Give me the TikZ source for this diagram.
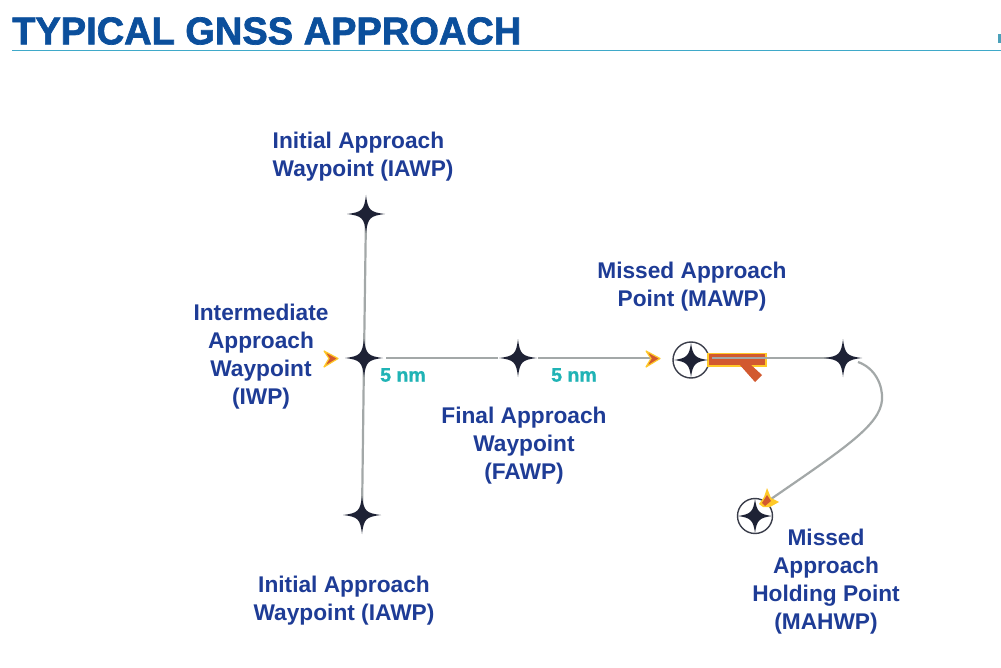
\documentclass[tikz,border=0pt]{standalone}
\usepackage{fontspec}
\setmainfont{Liberation Sans}
\newfontfamily\titlefont[FakeBold=1.8]{Liberation Sans Bold}
\newfontfamily\nmfont[FakeBold=1.2]{Liberation Sans Bold}
\definecolor{titleblue}{HTML}{0B4F9C}
\definecolor{rulecyan}{HTML}{3FA9C9}
\definecolor{labelblue}{HTML}{1E3C96}
\definecolor{linegrey}{HTML}{A3A8A8}
\definecolor{stardark}{HTML}{1E2235}
\definecolor{markorange}{HTML}{D2592F}
\definecolor{markyellow}{HTML}{FFC928}
\definecolor{nmteal}{HTML}{1FB3B5}
\tikzset{
  every picture/.style={x=1pt,y=-1pt},
  lbl/.style={align=center,text=labelblue,font=\fontsize{22.7}{28}\selectfont\bfseries,inner sep=0pt},
  nmlbl/.style={text=nmteal,font=\fontsize{19.5}{20}\selectfont\nmfont,inner sep=0pt},
  route/.style={draw=linegrey,line width=2.2pt},
  ring/.style={draw=stardark!70!gray,line width=1.4pt},
  tipfill/.style={fill=markorange,draw=markyellow,line width=1.2pt,line join=round},
}
% four-pointed star: centre, radius, waist
\newcommand{\fourstar}[3]{%
  \fill[stardark,shift={(#1)}]
    (0,-#2) .. controls (1.8,-#3-1) and (#3+1,-1.8) .. (#2,0)
    .. controls (#3+1,1.8) and (1.8,#3+1) .. (0,#2)
    .. controls (-1.8,#3+1) and (-#3-1,1.8) .. (-#2,0)
    .. controls (-#3-1,-1.8) and (-1.8,-#3-1) .. (0,-#2) -- cycle;}
\begin{document}
\begin{tikzpicture}
\useasboundingbox (0,0) rectangle (1001,668);
\fill[white] (0,0) rectangle (1001,668);
% header
\node[anchor=west,inner sep=0pt,text=titleblue] (title) at (12,31)
  {\resizebox{509pt}{27pt}{\titlefont TYPICAL GNSS APPROACH}};
\coordinate (ruleL) at (12,50.5);
\coordinate (ruleR) at (1001,50.5);
\draw[rulecyan,line width=1.1pt] (ruleL) -- (ruleR);
\fill[rulecyan!80!gray] (998,34) rectangle (1001,43);
% waypoints
\coordinate (iawpT) at (366,214);
\coordinate (iwp) at (364,358);
\coordinate (iawpB) at (362,515);
\coordinate (fawp) at (518,358);
\coordinate (mawp) at (691,360);
\coordinate (turn) at (843,358);
\coordinate (mahwp) at (755,516);
\coordinate (gapA) at (386,358);
\coordinate (gapB) at (498,358);
\coordinate (gapC) at (538,358);
\coordinate (tipF) at (650,358);
\coordinate (acL) at (712,358);
\coordinate (turnOut) at (858,362);
\coordinate (mahIn) at (771,499);
% routes
\draw[route] (iawpT) -- (iwp);
\draw[route] (iwp) -- (iawpB);
\draw[route] (gapA) -- (gapB);
\draw[route] (gapC) -- (tipF);
\draw[route] (turnOut) .. controls (875,368) and (883,385) .. (882,400)
   .. controls (880,425) and (845,448) .. (mahIn);
% rings
\draw[ring] (mawp) circle (18);
\draw[ring] (mahwp) circle (17.5);
% aircraft mark
\draw[markyellow,line width=1.5pt,fill=markorange] (708,353.5) rectangle (766,366);
\fill[markorange] (739,364) -- (750,364) -- (762,375) -- (755,382) -- cycle;
\draw[route,line width=2pt] (acL) -- (turn);
% stars
\fourstar{iawpT}{19}{3}
\fourstar{iwp}{19}{3}
\fourstar{iawpB}{19}{3}
\fourstar{fawp}{19}{3}
\fourstar{turn}{19}{3}
\fourstar{mawp}{17}{3.2}
\fourstar{mahwp}{17}{3.2}
% arrow marks
\draw[tipfill] (324,351) -- (338,358.5) -- (324,367) -- (329,358.5) -- cycle;
\draw[tipfill] (646,351) -- (660,358.5) -- (646,367) -- (651,358.5) -- cycle;
\fill[markyellow] (767,488) -- (771,498) -- (779,502) -- (770,507) -- (763,507) -- (759,504) -- (764,497) -- cycle;
\fill[markorange] (767,495) -- (771,501) -- (765,506) -- (762,503) -- cycle;
% labels
\node[lbl,align=left,anchor=west] (l1) at (272.5,157) {Initial Approach\\Waypoint (IAWP)};
\node[lbl] (l2) at (261,357) {Intermediate\\Approach\\Waypoint\\(IWP)};
\node[lbl] (l3) at (692,287) {Missed Approach\\Point (MAWP)};
\node[lbl] (l4) at (524,446) {Final Approach\\Waypoint\\(FAWP)};
\node[lbl] (l5) at (344,601) {Initial Approach\\Waypoint (IAWP)};
\node[lbl] (l6) at (826,582) {Missed\\Approach\\Holding Point\\(MAHWP)};
\node[nmlbl] (nmA) at (403,375) {5 nm};
\node[nmlbl] (nmB) at (574,375) {5 nm};
\end{tikzpicture}
\end{document}
